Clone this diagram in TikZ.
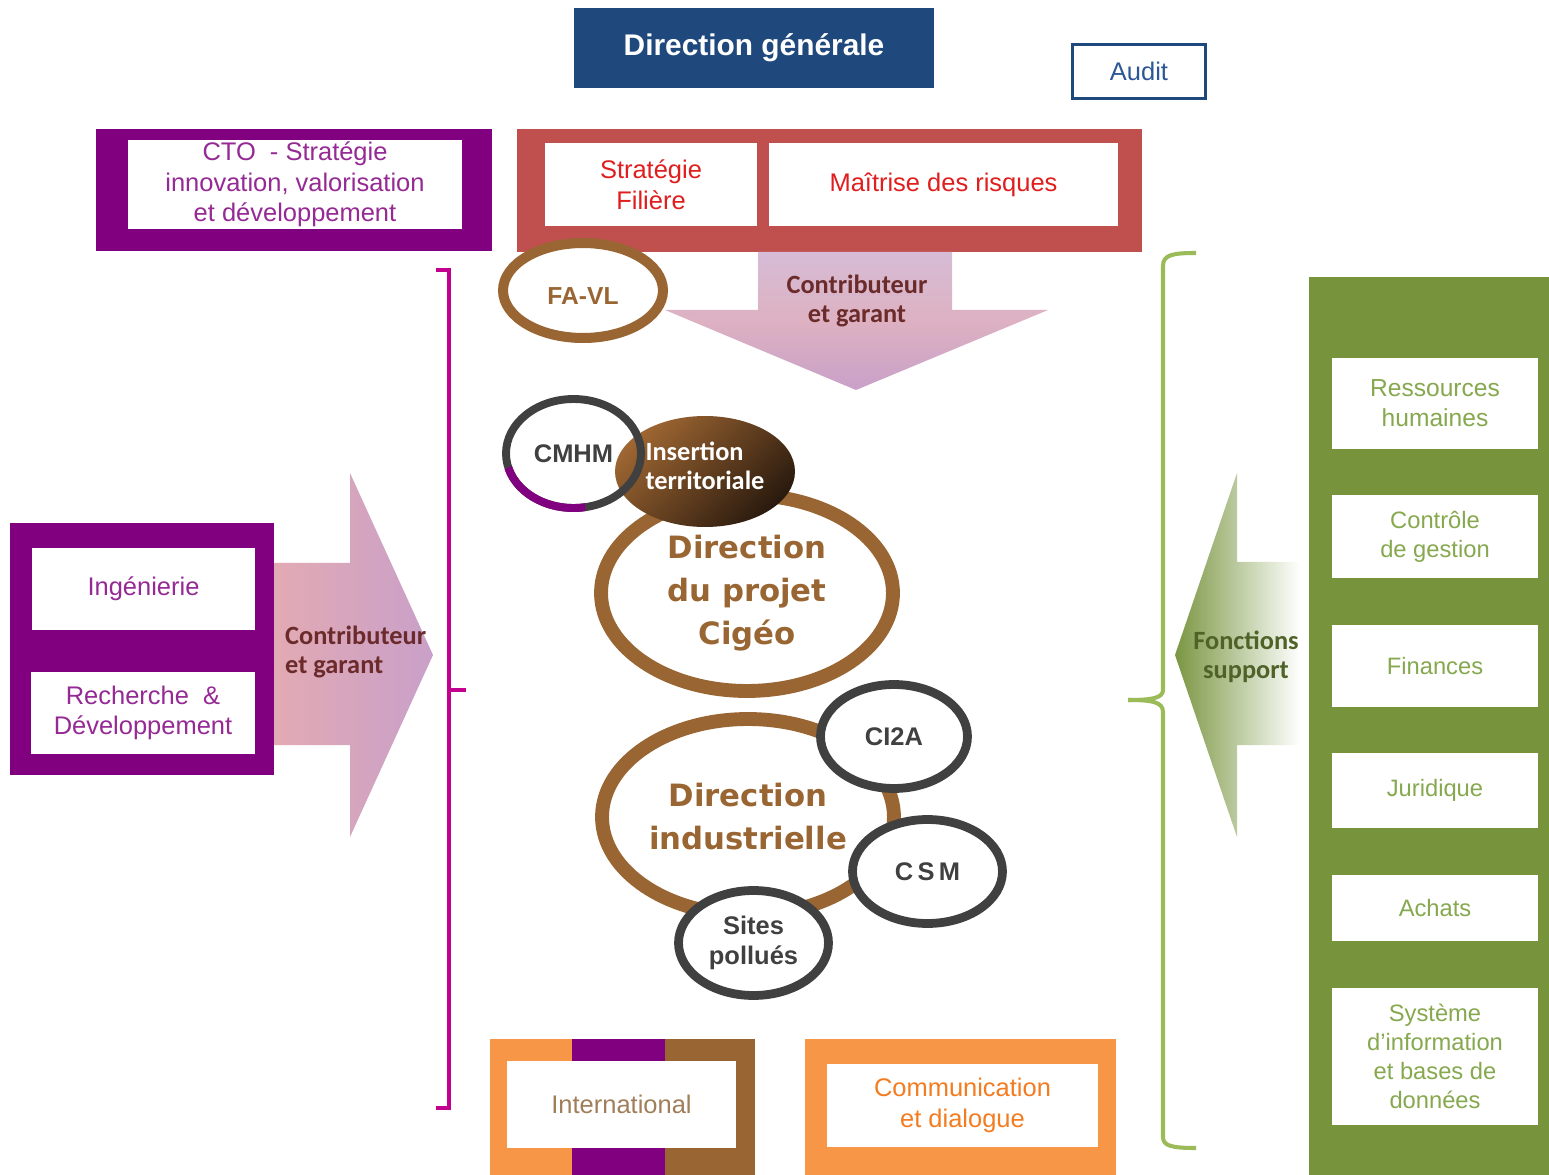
\documentclass[tikz,border=0pt]{standalone}
\usepackage{fontspec}
\setmainfont{Liberation Sans}
\newfontfamily\calib{Carlito}
\newfontfamily\dejav{DejaVu Sans}
\usetikzlibrary{shapes.geometric}
\definecolor{dgblue}{HTML}{1F497D}
\definecolor{auditblue}{HTML}{2B5797}
\definecolor{mauve}{HTML}{800080}
\definecolor{mauvetxt}{HTML}{952A95}
\definecolor{rougebox}{HTML}{C0504D}
\definecolor{rougetxt}{HTML}{E01E1E}
\definecolor{brun}{HTML}{996633}
\definecolor{gris}{HTML}{404040}
\definecolor{vertbox}{HTML}{77933C}
\definecolor{verttxt}{HTML}{86A84E}
\definecolor{vertbrace}{HTML}{9BBB59}
\definecolor{vertfonce}{HTML}{4F6228}
\definecolor{orangebox}{HTML}{F79646}
\definecolor{orangetxt}{HTML}{F47C20}
\definecolor{intltxt}{HTML}{A07E5A}
\definecolor{bordeaux}{HTML}{6B2B2B}
\definecolor{magbrace}{HTML}{C4008E}
\definecolor{arrowpink}{HTML}{E2AAB3}
\definecolor{arrowlav}{HTML}{D6BCD6}
\definecolor{arrowmauve}{HTML}{C9A0C9}
\definecolor{arrowgreen}{HTML}{7A9642}
\definecolor{arrowgreenmid}{HTML}{B2C494}
\definecolor{inserttop}{HTML}{9E6632}
\definecolor{insertmid}{HTML}{7A4A22}
\definecolor{insertbot}{HTML}{2A1A0E}
\newcommand{\boxtext}{\fontsize{14.5}{17.5}\selectfont}
\newcommand{\greentext}{\fontsize{13.5}{16.5}\selectfont}
\newcommand{\arrowtext}{\calib\bfseries\fontsize{15}{16.5}\selectfont}
\tikzset{
  wbox/.style={fill=white, align=center, inner sep=0pt},
  gbox/.style={wbox, text=verttxt, minimum width=4.12cm, font=\greentext},
  ring/.style={ellipse, draw=brun, line width=7.9pt, fill=white, inner sep=0pt, text=brun, align=center,
    font=\dejav\bfseries\fontsize{17.5}{24.5}\selectfont},
  site/.style={ellipse, draw=gris, line width=5pt, fill=white, inner sep=0pt, text=gris, align=center,
    font=\bfseries\fontsize{14.5}{17}\selectfont}
}

\begin{document}
\begin{tikzpicture}[x=0.02cm, y=-0.02cm]
\useasboundingbox (0,0) rectangle (1549,1175);

% direction and audit
\node[fill=dgblue, text=white, minimum width=7.2cm, minimum height=1.6cm, font=\bfseries\fontsize{17}{20}\selectfont] (dg) at (754,48) {Direction générale};
\node[draw=dgblue, line width=1.7pt, text=auditblue, minimum width=2.66cm, minimum height=1.08cm, font=\boxtext] (audit) at (1139,71.5) {Audit};

% CTO
\fill[mauve] (96,129) rectangle (492,251);
\node[wbox, text=mauvetxt, minimum width=6.68cm, minimum height=1.78cm, font=\boxtext] (cto) at (295,184.5) {CTO\ \ - Stratégie\\innovation, valorisation\\et développement};

% strategie and risques
\fill[rougebox] (517,129) rectangle (1142,252);
\node[wbox, text=rougetxt, minimum width=4.24cm, minimum height=1.66cm, font=\boxtext] (filiere) at (651,184.5) {Stratégie\\Filière};
\node[wbox, text=rougetxt, minimum width=6.98cm, minimum height=1.66cm, font=\boxtext] (risques) at (943.5,184.5) {Maîtrise\ des\ risques};

% contributeur arrows
\shade[top color=arrowlav, bottom color=arrowmauve, middle color=arrowpink!60!arrowlav] (758,252) -- (952,252) -- (952,310) -- (1048,310) -- (856,390) -- (665,310) -- (758,310) -- cycle;
\node[text=bordeaux, align=center, font=\arrowtext] (ctbtop) at (857,301) {Contributeur\\et garant};
\shade[left color=arrowpink, middle color=arrowlav, right color=arrowmauve] (274,563) -- (350,563) -- (350,473) -- (433,655) -- (350,837) -- (350,745) -- (274,745) -- cycle;
\node[text=bordeaux, align=left, anchor=west, font=\arrowtext] (ctbleft) at (279,652) {Contributeur\\et garant};

% ingenierie and R&D
\fill[mauve] (10,523) rectangle (274,775);
\node[wbox, text=mauvetxt, minimum width=4.46cm, minimum height=1.64cm, font=\boxtext] (inge) at (143.5,589) {Ingénierie};
\node[wbox, text=mauvetxt, minimum width=4.48cm, minimum height=1.64cm, font=\boxtext] (rd) at (143,713) {Recherche\ \ \&\\Développement};

% fonctions support
\fill[vertbox] (1309,277) rectangle (1549,1175);
\shade[left color=arrowgreen, middle color=arrowgreenmid, right color=white] (1300,562) -- (1237,562) -- (1237,473) -- (1175,655) -- (1237,837) -- (1237,745) -- (1300,745) -- cycle;
\node[text=vertfonce, align=center, font=\arrowtext] (fsupport) at (1246,657) {Fonctions\\support};
\node[gbox, minimum height=1.82cm, font=\fontsize{14}{17}\selectfont] (rh) at (1435,403.5) {Ressources\\humaines};
\node[gbox, minimum height=1.66cm] (gestion) at (1435,536.5) {Contrôle\\de gestion};
\node[gbox, minimum height=1.64cm] (finances) at (1435,666) {Finances};
\node[gbox, minimum height=1.5cm] (juridique) at (1435,790.5) {Juridique};
\node[gbox, minimum height=1.32cm] (achats) at (1435,908) {Achats};
\node[gbox, minimum height=2.74cm] (si) at (1435,1056.5) {Système\\d’information\\et bases de\\données};

% brackets
\draw[magbrace, line width=2pt] (436,270) -- (449,270) -- (449,1108) -- (436,1108);
\draw[magbrace, line width=2pt] (449,690) -- (466,690);
\draw[vertbrace, line width=2.3pt] (1196,253) .. controls (1172,253) and (1163,255) .. (1163,266) -- (1163,690) .. controls (1163,698) and (1152,700) .. (1128,700);
\draw[vertbrace, line width=2.3pt] (1128,700) .. controls (1152,700) and (1163,702) .. (1163,712) -- (1163,1137) .. controls (1163,1146) and (1172,1148) .. (1196,1148);

% bottom boxes
\fill[orangebox] (490,1039) rectangle (572,1175);
\fill[mauve] (572,1039) rectangle (665,1175);
\fill[brun] (665,1039) rectangle (755,1175);
\node[wbox, text=intltxt, minimum width=4.58cm, minimum height=1.74cm, font=\boxtext] (intl) at (621.5,1104.5) {International};
\fill[orangebox] (805,1039) rectangle (1116,1175);
\node[wbox, text=orangetxt, minimum width=5.42cm, minimum height=1.66cm, font=\boxtext] (comm) at (962.5,1105.5) {Communication\\et dialogue};

% projet Cigeo
\node[ellipse, draw=brun, line width=5.7pt, fill=white, minimum width=3.2cm, minimum height=1.9cm, text height=0.56cm, text=brun, font=\bfseries\fontsize{14}{17}\selectfont] (favl) at (583,290.5) {FA-VL};
\node[ring, minimum width=5.84cm, minimum height=3.92cm] (cigeo) at (747,593) {Direction\\du projet\\Cigéo};
\node[ellipse, top color=inserttop, middle color=insertmid, bottom color=insertbot, shading angle=45, minimum width=3.6cm, minimum height=2.22cm, inner sep=0pt, text depth=0.24cm, text=white, align=left, font=\arrowtext] (insertion) at (705,471.5) {Insertion\\territoriale};
\node[ellipse, draw=gris, line width=4.5pt, minimum width=2.7cm, minimum height=2.18cm, inner sep=0pt, text=gris, font=\bfseries\fontsize{14.5}{17}\selectfont] (cmhm) at (573.5,453.5) {CMHM};
\draw[mauve, line width=4.5pt] (cmhm.center) ++(80:67.5 and 54.5) arc[start angle=80, end angle=165, x radius=67.5, y radius=54.5];

% direction industrielle
\node[ring, minimum width=5.84cm, minimum height=3.92cm] (indus) at (748,817) {Direction\\industrielle};
\node[site, minimum width=2.94cm, minimum height=2.08cm] (ci2a) at (894,736.5) {CI2A};
\node[site, minimum width=3cm, minimum height=2.08cm] (csm) at (927.5,871.5) {C\,S\,M};
\node[site, minimum width=3cm, minimum height=2.1cm] (sites) at (753.5,943) {Sites\\pollués};
\end{tikzpicture}
\end{document}
